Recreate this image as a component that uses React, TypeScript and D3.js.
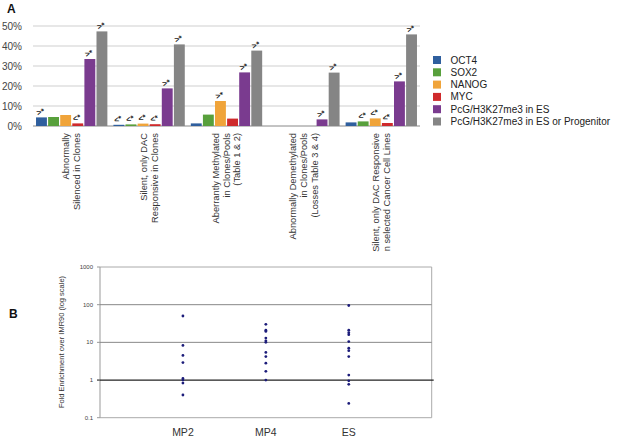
import React from "react";
import * as d3 from "d3";

const groupLabels: string[][] = [
  ["Abnormally", "Silenced in Clones"],
  ["Silent, only DAC", "Responsive in Clones"],
  ["Aberrantly Methylated", "in Clones/Pools", "(Table 1 & 2)"],
  ["Abnormally Demethylated", "in Clones/Pools", "(Losses Table 3 & 4)"],
  ["Silent, only DAC Responsive", "n selected Cancer Cell Lines"],
];
const seriesNames = ["OCT4", "SOX2", "NANOG", "MYC", "PcG/H3K27me3 in ES", "PcG/H3K27me3 in ES or Progenitor"];
const seriesColors = ["#2f5f9e", "#58a03c", "#f0a43a", "#cf2a2c", "#7a3b8f", "#858585"];
// values per group (percent), order as seriesNames
const OCT4 = [4.3, 0.6, 1.3, 0, 1.8];
const SOX2 = [4.5, 0.8, 5.7, 0, 2.3];
const NANOG = [5.5, 1.2, 12.5, 0, 3.8];
const MYC = [1.3, 0.9, 3.7, 0, 1.5];
const PCG_ES = [33.5, 18.8, 26.8, 3.3, 22.3];
const PCG_ESP = [47.3, 40.8, 37.7, 26.7, 45.8];
const seriesValues = [OCT4, SOX2, NANOG, MYC, PCG_ES, PCG_ESP];
// significance marks per series per group
const marks: string[][] = [
  [">*", "<*", "", "", ""],
  ["", "<*", "", "", "<*"],
  ["", "<*", ">*", "", "<*"],
  ["<*", "<*", "", "", "<*"],
  [">*", ">*", ">*", ">*", ">*"],
  [">*", ">*", ">*", ">*", ">*"],
];
const pctTicks = [0, 10, 20, 30, 40, 50];

const scatterCats = ["MP2", "MP4", "ES"];
const MP2 = [50, 8.3, 4.5, 2.9, 1.1, 1.0, 0.83, 0.4];
const MP4 = [30, 21, 19.5, 13, 11, 10, 5.4, 4.2, 2.8, 1.7, 1.0];
const ES = [95, 21, 18, 16, 10.5, 7, 6, 4.2, 1.35, 0.95, 0.77, 0.24];
const scatterValues = [MP2, MP4, ES];
const logTicks = [1000, 100, 10, 1, 0.1];

const FONT = "'Liberation Sans', Arial, sans-serif";

export default function App() {
  // Panel A
  const ax0 = 33, ax1 = 420;
  const yA = d3.scaleLinear().domain([0, 50]).range([126, 26]);
  const xG = d3.scaleBand<number>().domain(d3.range(5)).range([ax0, ax1]).paddingInner(0.0).paddingOuter(0.0);
  const xS = d3.scaleBand<number>().domain(d3.range(6)).range([0, xG.bandwidth()]).paddingInner(0.1).paddingOuter(0.25);

  // Panel B
  const bx0 = 100, bx1 = 431.7;
  const yB = d3.scaleLog().domain([0.1, 1000]).range([417.7, 267]);
  const xB = d3.scalePoint<string>().domain(scatterCats).range([bx0, bx1]).padding(1);

  return (
    <svg width={624} height={439} style={{ position: "absolute", left: 0, top: 0, background: "#fff" }} fontFamily={FONT}>
      <text x={7} y={13} fontSize={12} fontWeight="bold" fill="#111">A</text>
      {pctTicks.map((t) => (
        <g key={t}>
          <line x1={ax0} x2={ax1} y1={yA(t)} y2={yA(t)} stroke={t === 0 ? "#888" : "#cfcfcf"} strokeWidth={1} />
          <text x={22} y={yA(t) + 3.5} fontSize={10} textAnchor="end" fill="#444">{t}%</text>
        </g>
      ))}
      {seriesValues.map((vals, s) =>
        vals.map((v, g) => {
          const x = (xG(g) as number) + (xS(s) as number);
          const w = xS.bandwidth();
          const m = marks[s][g];
          return (
            <g key={`${s}-${g}`}>
              {v > 0 && <rect x={x} y={yA(v)} width={w} height={yA(0) - yA(v)} fill={seriesColors[s]} />}
              {m && (
                <text
                  transform={`translate(${x + w / 2},${yA(v) - 3}) rotate(-20)`}
                  fontSize={8}
                  fontWeight="bold"
                  textAnchor="middle"
                  fill="#222"
                >
                  {m}
                </text>
              )}
            </g>
          );
        })
      )}
      {groupLabels.map((lines, g) => {
        const cx = (xG(g) as number) + xG.bandwidth() / 2;
        const n = lines.length;
        return lines.map((ln, i) => {
          const lx = cx + (i - (n - 1) / 2) * 10.8 + 3;
          return (
            <text key={`${g}-${i}`} transform={`translate(${lx},133) rotate(-90)`} fontSize={9.3} textAnchor="end" fill="#333">
              {ln}
            </text>
          );
        });
      })}
      {seriesNames.map((nm, i) => (
        <g key={nm}>
          <rect x={433} y={56 + i * 12.3} width={8} height={8} fill={seriesColors[i]} />
          <text x={450.5} y={63.5 + i * 12.3} fontSize={10} fill="#222">{nm}</text>
        </g>
      ))}

      {/* Panel B */}
      <text x={9} y={318} fontSize={12} fontWeight="bold" fill="#111">B</text>
      <line x1={bx0} x2={bx1} y1={yB(1000)} y2={yB(1000)} stroke="#aaa" />
      <line x1={bx0} x2={bx1} y1={yB(0.1)} y2={yB(0.1)} stroke="#aaa" />
      <line x1={bx0} x2={bx0} y1={yB(1000)} y2={yB(0.1)} stroke="#999" />
      <line x1={bx1} x2={bx1} y1={yB(1000)} y2={yB(0.1)} stroke="#aaa" />
      {logTicks.map((t) => (
        <g key={t}>
          {(t === 100 || t === 10) && <line x1={bx0} x2={bx1} y1={yB(t)} y2={yB(t)} stroke="#888" />}
          {t === 1 && <line x1={bx0 - 3} x2={bx1 + 2} y1={yB(t)} y2={yB(t)} stroke="#222" strokeWidth={1.2} />}
          <line x1={bx0 - 3} x2={bx0} y1={yB(t)} y2={yB(t)} stroke="#999" />
          <text x={93} y={yB(t) + 2} fontSize={6} textAnchor="end" fill="#444">{t}</text>
        </g>
      ))}
      <text transform={`translate(64,342) rotate(-90)`} fontSize={7.5} textAnchor="middle" fill="#333">
        Fold Enrichment over IMR90 (log scale)
      </text>
      {scatterCats.map((c, i) => (
        <g key={c}>
          <text x={xB(c) as number} y={436} fontSize={10.5} textAnchor="middle" fill="#333">{c}</text>
          {scatterValues[i].map((v, j) => (
            <circle key={j} cx={xB(c) as number} cy={yB(v)} r={1.4} fill="#1c1c7a" />
          ))}
        </g>
      ))}
    </svg>
  );
}
